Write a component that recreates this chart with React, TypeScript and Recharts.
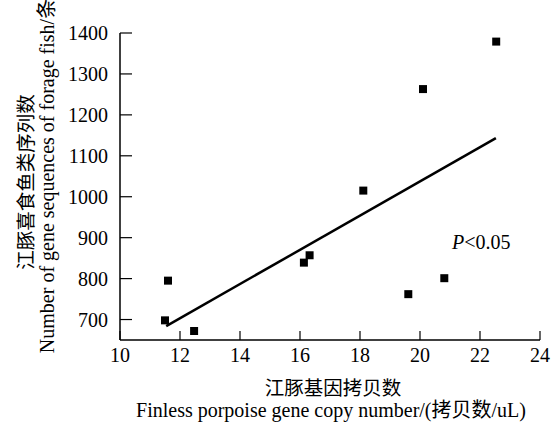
import { ScatterChart, Scatter, XAxis, YAxis, Label } from 'recharts';

// copy number (x) vs. forage-fish sequence count (y)
const copyNumbers = [11.5, 11.6, 12.47, 16.13, 16.32, 18.11, 19.61, 20.1, 20.81, 22.54];
const sequenceCounts = [698, 795, 672, 839, 857, 1015, 762, 1263, 801, 1379];

// fitted trend line end points
const fitX = [11.54, 22.53];
const fitY = [684, 1143];

const xTicks = [10, 12, 14, 16, 18, 20, 22, 24];
const yTicks = [700, 800, 900, 1000, 1100, 1200, 1300, 1400];

const points = copyNumbers.map((x, i) => ({ x, y: sequenceCounts[i] }));
const fitLine = fitX.map((x, i) => ({ x, y: fitY[i] }));

const SERIF = '"Times New Roman", "Liberation Serif", "Noto Sans CJK SC", serif';
const tickStyle = { fontSize: 20, fill: '#000', fontFamily: SERIF };

export default function App() {
    return (
        <div style={{ position: 'absolute', top: 0, left: 0, background: '#fff' }}>
            <ScatterChart
                width={557}
                height={426}
                margin={{ top: 33, right: 17, bottom: 0, left: 0 }}
            >
                <XAxis
                    type="number"
                    dataKey="x"
                    domain={[10, 24]}
                    ticks={xTicks}
                    height={86}
                    tick={tickStyle}
                    tickSize={-9}
                    tickMargin={17}
                    axisLine={{ stroke: '#000', strokeWidth: 1.5 }}
                    tickLine={{ stroke: '#000', strokeWidth: 1.2 }}
                    allowDataOverflow
                >
                    <Label
                        content={() => (
                            <g fontFamily={SERIF} fill="#000">
                                <text x={333} y={395} textAnchor="middle" fontSize={19.5}>
                                    江豚基因拷贝数
                                </text>
                                <text x={331} y={417} textAnchor="middle" fontSize={20}>
                                    Finless porpoise gene copy number/(拷贝数/uL)
                                </text>
                            </g>
                        )}
                    />
                </XAxis>
                <YAxis
                    type="number"
                    dataKey="y"
                    domain={[650, 1400]}
                    ticks={yTicks}
                    width={120}
                    tick={tickStyle}
                    tickSize={-12}
                    tickMargin={24}
                    axisLine={{ stroke: '#000', strokeWidth: 1.5 }}
                    tickLine={{ stroke: '#000', strokeWidth: 1.2 }}
                    allowDataOverflow
                >
                    <Label
                        content={() => (
                            <g fontFamily={SERIF} fill="#000">
                                <text
                                    x={0}
                                    y={0}
                                    transform="translate(33, 182) rotate(-90)"
                                    textAnchor="middle"
                                    fontSize={19.5}
                                >
                                    江豚喜食鱼类序列数
                                </text>
                                <text
                                    x={0}
                                    y={0}
                                    transform="translate(54, 176) rotate(-90)"
                                    textAnchor="middle"
                                    fontSize={20}
                                >
                                    Number of gene sequences of forage fish/条
                                </text>
                            </g>
                        )}
                    />
                </YAxis>
                <Scatter
                    data={fitLine}
                    line={{ stroke: '#000', strokeWidth: 2.5 }}
                    shape={() => null}
                    isAnimationActive={false}
                />
                <Scatter
                    data={points}
                    shape="square"
                    fill="#000"
                    isAnimationActive={false}
                />
                <text x={452} y={249} fontFamily={SERIF} fontSize={20} fill="#000">
                    <tspan fontStyle="italic">P</tspan>
                    <tspan>&lt;0.05</tspan>
                </text>
            </ScatterChart>
        </div>
    );
}
